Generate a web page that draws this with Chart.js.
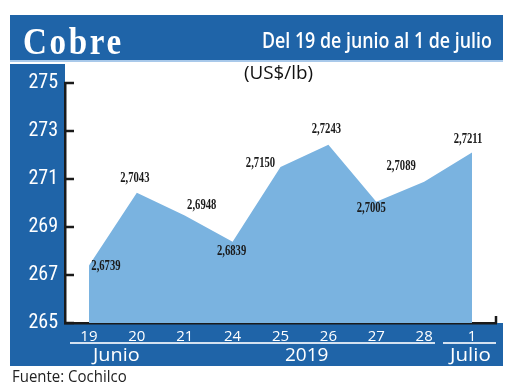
<!DOCTYPE html>
<html>
<head>
<meta charset="utf-8">
<script src="https://cdn.jsdelivr.net/npm/chart.js@4/dist/chart.umd.min.js"></script>
<style>
  body { margin: 0; background: #fff; }
  #wrap { position: relative; width: 520px; height: 390px; overflow: hidden; }
  .blk { position: absolute; background: #1f64a8; }
  .txt { position: absolute; white-space: nowrap; line-height: 1; transform-origin: left top; font-family: 'Open Sans', sans-serif; }
  .sep { position: absolute; height: 2px; background: #d3e1f0; }
  canvas { position: absolute; left: 0; top: 0; }
</style>
</head>
<body>
<div id="wrap">
  <div class="blk" style="left:10px;top:15px;width:493px;height:45px"></div>
  <div style="position:absolute;left:10px;top:60px;width:493px;height:2px;background:#a9c9ea"></div>
  <div class="blk" style="left:10px;top:64px;width:55px;height:302px"></div>
  <div class="blk" style="left:10px;top:323px;width:493px;height:43px"></div>
  <canvas id="chart" width="520" height="390"></canvas>

  <div class="txt" data-x="23" data-w="101" style="top:20px;color:#fff;font:bold 37px 'Liberation Serif',serif;letter-spacing:3px">Cobre</div>
  <div class="txt" data-x="262" data-w="230" style="top:28px;color:#fff;font-size:22px;font-weight:600">Del 19 de junio al 1 de julio</div>
  <div class="txt" data-x="244" data-w="69" style="top:63px;color:#111;font-size:18px">(US$/lb)</div>
  <div class="sep" style="left:70px;top:342px;width:365px"></div>
  <div class="sep" style="left:443px;top:342px;width:53px"></div>
  <div class="txt" data-x="93" data-w="47" style="top:345px;color:#fff;font-size:19px">Junio</div>
  <div class="txt" data-x="285" data-w="43" style="top:345px;color:#fff;font-size:19px">2019</div>
  <div class="txt" data-x="450" data-w="41" style="top:345px;color:#fff;font-size:19px">Julio</div>
  <div class="txt" data-x="12" data-w="115" style="top:369px;color:#222;font-size:15.5px">Fuente: Cochilco</div>
</div>
<script>
// copper price, US$/lb, 19 June - 1 July 2019
const days = ['19', '20', '21', '24', '25', '26', '27', '28', '1'];
const prices = [2.6739, 2.7043, 2.6948, 2.6839, 2.7150, 2.7243, 2.7005, 2.7089, 2.7211];
const yTicks = [265, 267, 269, 271, 273, 275]; // cents

// fit text boxes to the widths in the original layout
document.querySelectorAll('.txt').forEach(el => {
  el.style.left = el.dataset.x + 'px';
  el.style.transform = `scaleX(${el.dataset.w / el.offsetWidth})`;
});

const axisMarks = {
  id: 'axisMarks',
  afterDraw(chart) {
    const { ctx, chartArea: a, scales: { y } } = chart;
    ctx.save();
    ctx.strokeStyle = '#1a1a1a';
    ctx.lineWidth = 2.5;
    y.ticks.forEach(t => {
      const py = y.getPixelForValue(t.value);
      ctx.beginPath();
      ctx.moveTo(a.left - 1, py);
      ctx.lineTo(a.left + 9, py);
      ctx.stroke();
    });
    ctx.beginPath();
    ctx.moveTo(a.right, a.bottom);
    ctx.lineTo(a.right, a.bottom - 7);
    ctx.stroke();
    ctx.restore();
  },
};

const valueLabels = {
  id: 'valueLabels',
  afterDatasetsDraw(chart, args, opts) {
    const { ctx } = chart;
    const meta = chart.getDatasetMeta(0);
    ctx.save();
    ctx.fillStyle = '#1a1a1a';
    ctx.font = "bold 14px 'Liberation Serif', serif";
    ctx.textAlign = 'center';
    ctx.textBaseline = 'middle';
    meta.data.forEach((pt, i) => {
      const [dx, dy] = opts.offsets[i];
      ctx.save();
      ctx.translate(pt.x + dx, pt.y + dy);
      ctx.scale(0.76, 1);
      ctx.fillText(prices[i].toFixed(4).replace('.', ','), 0, 0);
      ctx.restore();
    });
    ctx.restore();
  },
};

new Chart(document.getElementById('chart'), {
  type: 'line',
  data: {
    labels: days,
    datasets: [{
      data: prices,
      fill: 'start',
      backgroundColor: '#7ab3e0',
      borderWidth: 0,
      pointRadius: 0,
      tension: 0,
    }],
  },
  options: {
    responsive: false,
    animation: false,
    layout: { padding: { left: 10, right: 24, top: 83, bottom: 24 } },
    plugins: {
      legend: { display: false },
      tooltip: { enabled: false },
      valueLabels: {
        offsets: [[17, 1], [-2, -14], [17, -10], [-1, 10], [-20, -4], [-2, -15], [-5, 7], [-23, -15], [-4, -13]],
      },
    },
    scales: {
      x: {
        offset: true,
        z: 1,
        grid: { display: false, drawTicks: false },
        border: { display: true, color: '#1a1a1a', width: 2.5 },
        ticks: { color: '#fff', padding: 5, font: { family: 'Open Sans', size: 15 } },
        afterFit: s => { s.height = 43; },
      },
      y: {
        min: 2.65,
        max: 2.75,
        z: 1,
        afterBuildTicks: s => { s.ticks = yTicks.map(v => ({ value: v / 100 })); },
        grid: { display: false, drawTicks: false },
        border: { display: true, color: '#1a1a1a', width: 2.5 },
        ticks: {
          color: '#fff',
          padding: 7,
          font: { family: "'Liberation Sans Narrow', 'Roboto Condensed', 'Open Sans'", size: 20 },
          callback: v => String(Math.round(v * 100)),
        },
        afterFit: s => { s.width = 55; },
      },
    },
  },
  plugins: [axisMarks, valueLabels],
});
</script>
</body>
</html>
